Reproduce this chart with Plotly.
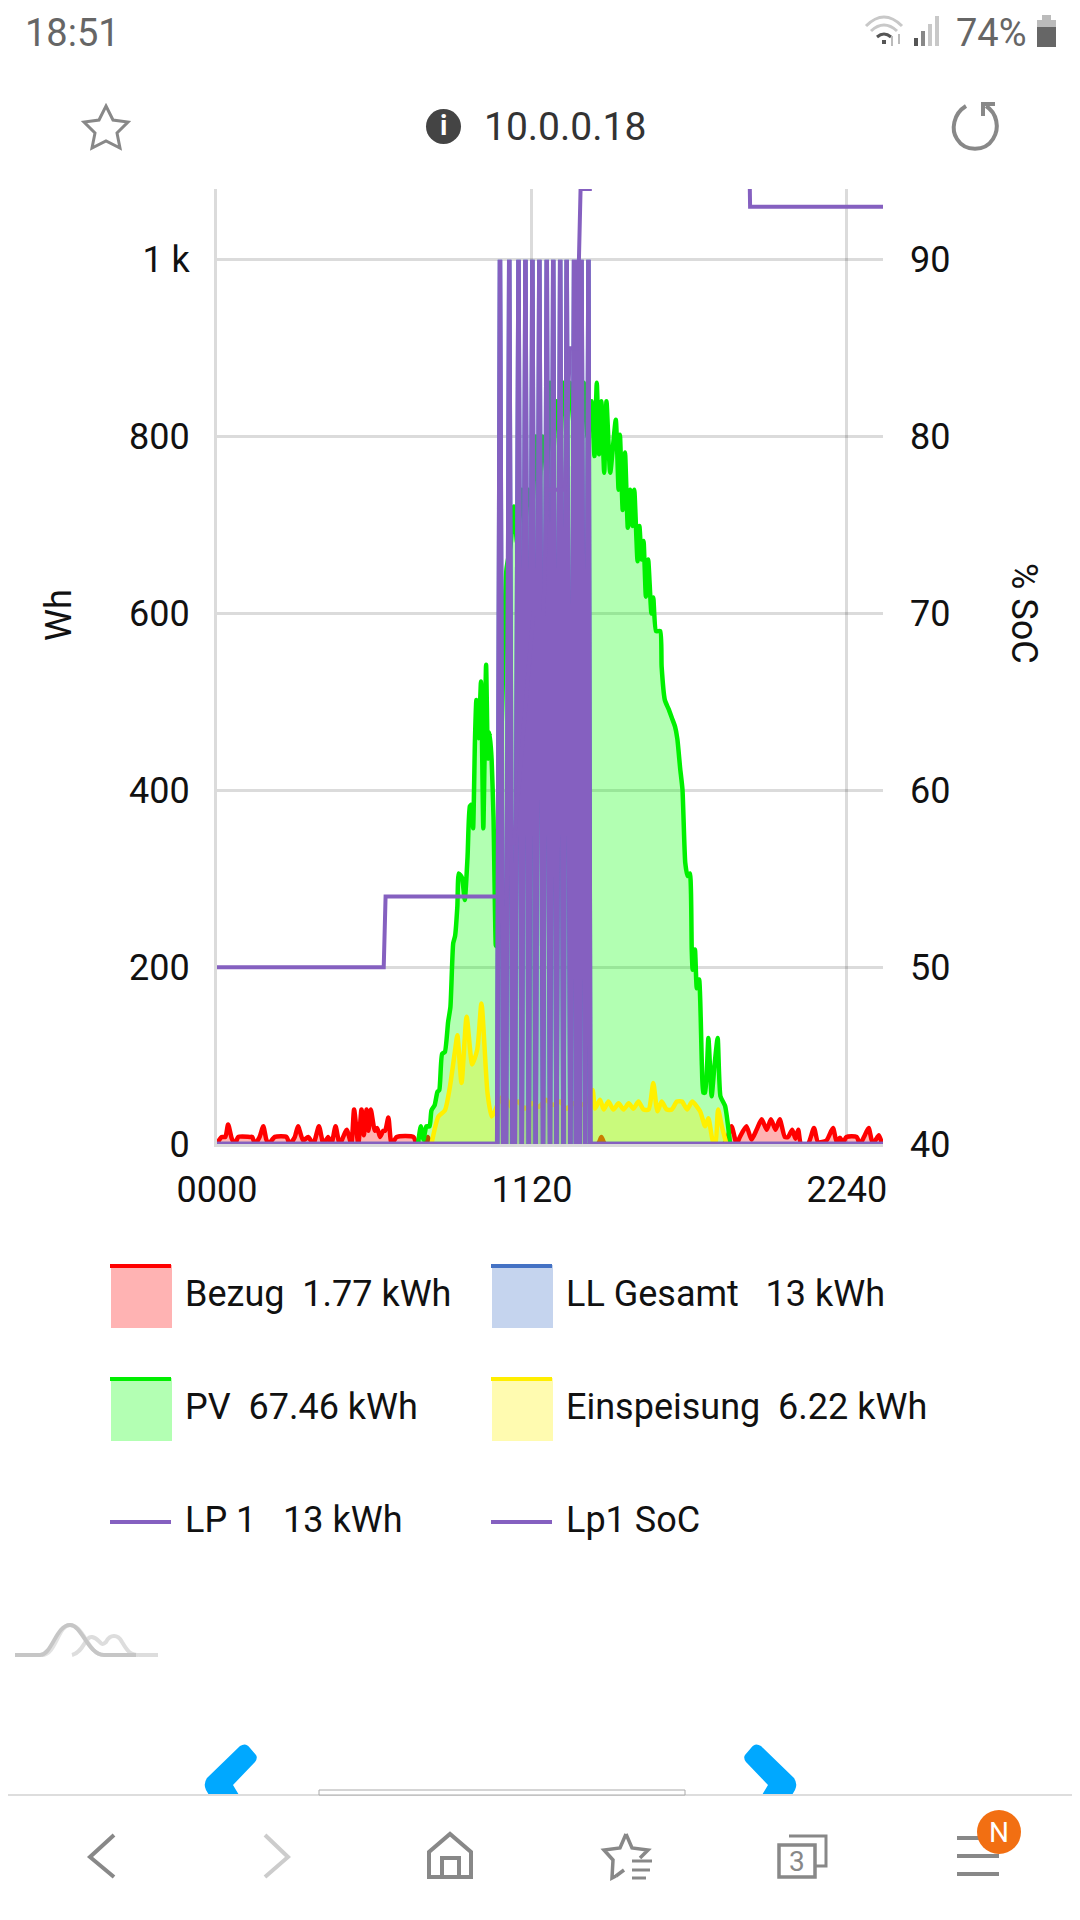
import re
import plotly.graph_objects as go

# page size and plot box, everything outside the plot is placed in page pixels
W, H = 1080, 1920
L, R, T, B = 217, 883, 189, 1144
BODY = 8  # the browser puts this margin around the plot div

bezug_x = [0, 4, 10, 18, 24, 32, 39, 46, 71, 76, 82, 92, 100, 106, 111, 125, 150, 157, 168, 175, 186, 197, 208, 220, 230, 240,
           247, 256, 265, 280, 290, 296, 305, 312, 317, 323, 327, 332, 341, 346, 352, 359, 363, 370, 377, 388, 424, 431, 436,
           448, 455, 462, 822, 830, 838, 1094, 1101, 1111, 1122, 1129, 1143, 1154, 1165, 1176, 1187, 1196, 1206, 1215, 1226,
           1233, 1242, 1249, 1255, 1261, 1276, 1289, 1298, 1316, 1330, 1338, 1345, 1352, 1359, 1381, 1388, 1397, 1407, 1415,
           1420, 1429, 1435, 1437]
bezug_y = [2, 4, 8, 8, 22, 6, 0, 8, 8, 8, 0, 8, 20, 6, 0, 8, 8, 0, 8, 20, 4, 8, 0, 20, 0, 8,
           0, 20, 0, 16, 0, 39, 0, 39, 10, 39, 15, 39, 15, 18, 8, 15, 15, 30, 0, 8, 8, 0, 0,
           0, 8, 0, 0, 8, 0, 0, 5, 20, 0, 8, 20, 5, 16, 28, 16, 28, 16, 28, 8,
           8, 16, 6, 16, 0, 0, 18, 2, 4, 18, 2, 7, 2, 8, 8, 0, 8, 18, 2,
           3, 10, 2, 0]

pv_x = [434, 440, 446, 452, 459, 463, 470, 476, 480, 486, 492, 499, 504, 510, 514, 519, 522, 529, 535, 541, 546, 550, 553, 557,
        560, 565, 570, 575, 581, 585, 589, 593, 597, 602, 610, 618, 625, 634, 641, 648, 658, 665, 672, 680, 688, 695, 703, 712,
        719, 726, 733, 741, 748, 755, 762, 770, 777, 785, 792, 800, 809, 815, 820, 825, 830, 836, 841, 849, 861, 867, 870, 876,
        881, 887, 892, 897, 901, 908, 912, 917, 921, 926, 931, 938, 942, 948, 957, 960, 967, 975, 982, 989, 994, 1000, 1005,
        1011, 1016, 1021, 1025, 1027, 1032, 1036, 1041, 1047, 1050, 1054, 1061, 1068, 1074, 1081, 1087, 1097, 1108]
pv_y = [0, 20, 5, 20, 20, 38, 44, 59, 61, 102, 104, 138, 155, 227, 235, 269, 306, 301, 276, 325, 382, 384, 357, 457,
        502, 459, 523, 357, 542, 436, 465, 434, 370, 224, 380, 540, 650, 678, 721, 680, 740, 700, 740, 717, 800, 740, 800, 757,
        861, 782, 840, 797, 861, 819, 861, 815, 861, 800, 861, 800, 840, 778, 861, 780, 840, 759, 840, 759, 819, 740, 802, 717,
        782, 697, 740, 699, 740, 659, 699, 661, 682, 619, 661, 600, 618, 580, 580, 540, 502, 492, 482, 472, 458, 425, 401,
        318, 303, 306, 220, 197, 220, 176, 186, 88, 58, 58, 120, 54, 88, 120, 54, 43, 0]

einsp_x = [463, 478, 492, 503, 514, 519, 528, 539, 551, 562, 571, 584, 593, 600, 606, 620, 635, 650, 665, 680, 695, 710, 725,
           740, 755, 770, 785, 800, 811, 816, 827, 835, 845, 856, 867, 878, 889, 899, 910, 921, 932, 942, 951, 960, 971, 982,
           993, 1004, 1015, 1026, 1043, 1054, 1061, 1072, 1076, 1082, 1090, 1100]
einsp_y = [0, 31, 38, 65, 106, 123, 69, 144, 90, 107, 159, 58, 31, 37, 45, 55, 42, 48, 40, 46, 42, 50, 44,
           48, 40, 46, 44, 48, 61, 40, 50, 39, 48, 39, 46, 39, 46, 40, 48, 39, 39, 69, 37, 48, 39, 39,
           48, 48, 39, 48, 37, 20, 29, 0, 0, 39, 20, 0]

lp1_x = [0, 605, 611, 618, 624, 631, 638, 643, 651, 658, 666, 673, 681, 688, 696, 704, 712, 719, 726, 733, 741, 748, 755, 763,
         771, 775, 779, 783, 787, 795, 802, 806, 1438]
lp1_y = [0, 0, 1000, 0, 0, 1000, 0, 0, 1000, 0, 1000, 0, 1000, 0, 1000, 0, 1000, 0, 1000, 0, 1000, 0, 1000, 0,
         1000, 0, 1000, 0, 1000, 0, 1000, 0, 0]
ll_gesamt_x = list(lp1_x)
ll_gesamt_y = list(lp1_y)

soc_x = [0, 360, 364, 624, 630, 641, 683, 705, 712, 751, 762, 777, 785, 805, 807, 1147, 1151, 1438]
soc_y = [50, 50, 54, 54, 57, 57, 70, 70, 77, 77, 85, 85, 94, 94, 100, 100, 93, 93]

x_ticks = [0, 680, 1360]
x_labels = ["0000", "1120", "2240"]
wh_ticks = [0, 200, 400, 600, 800, 1000]
wh_labels = ["0", "200", "400", "600", "800", "1 k"]
soc_ticks = [40, 50, 60, 70, 80, 90]

legend_area = [("Bezug\u00a0\u00a01.77 kWh", "#ff0000", "#ffb3b3", 111, 1265),
               ("LL Gesamt\u00a0\u00a0\u00a013 kWh", "#4472c4", "#c5d4ee", 492, 1265),
               ("PV\u00a0\u00a067.46 kWh", "#00ee00", "#b3ffb3", 111, 1378),
               ("Einspeisung\u00a0\u00a06.22 kWh", "#ffee00", "#fffbb0", 492, 1378)]
legend_line = [("LP 1\u00a0\u00a0\u00a013 kWh", 111), ("Lp1 SoC", 492)]

FONT = "Roboto"
PURPLE = "#8560c0"
GRID = "rgba(0,0,0,0.14)"


def px(x):
    return (x - L) / (R - L)


def py(y):
    return 1 - (y - T) / (B - T)


def path(d):
    # page pixels to paper fractions
    return re.sub(r"(-?[\d.]+)[ ,]+(-?[\d.]+)",
                  lambda m: "%.5f,%.5f" % (px(float(m.group(1))), py(float(m.group(2)))), d)


shapes = []
texts = []


def draw(d, color="#888888", width=3, fill=None):
    shapes.append(dict(type="path", path=path(d), xref="paper", yref="paper", layer="above",
                       line=dict(color=color, width=width), fillcolor=fill))


def box(x0, y0, x1, y1, fill, line=None, width=0):
    shapes.append(dict(type="rect", xref="paper", yref="paper", layer="above",
                       x0=px(x0), x1=px(x1), y0=py(y0), y1=py(y1), fillcolor=fill,
                       line=dict(color=line or fill, width=width)))


def label(x, y, s, size=36, color="#111111", anchor="left", angle=0):
    texts.append(dict(x=px(x), y=py(y), xref="paper", yref="paper", text=s, showarrow=False, textangle=angle,
                      xanchor=anchor, yanchor="middle", font=dict(family=FONT, size=size, color=color)))


fig = go.Figure()

fig.add_trace(go.Scatter(x=bezug_x, y=bezug_y, name="Bezug", mode="lines", fill="tozeroy", fillcolor="rgba(255,0,0,0.3)",
                         line=dict(color="#ff0000", width=4.5, shape="spline", smoothing=0.6)))
fig.add_trace(go.Scatter(x=pv_x, y=pv_y, name="PV", mode="lines", fill="tozeroy", fillcolor="rgba(0,255,0,0.3)",
                         line=dict(color="#00f000", width=4.5, shape="spline", smoothing=0.5)))
fig.add_trace(go.Scatter(x=einsp_x, y=einsp_y, name="Einspeisung", mode="lines", fill="tozeroy", fillcolor="rgba(255,240,0,0.3)",
                         line=dict(color="#fff000", width=4.5, shape="spline", smoothing=0.6)))
fig.add_trace(go.Scatter(x=ll_gesamt_x, y=ll_gesamt_y, name="LL Gesamt", mode="lines", fill="tozeroy", fillcolor="rgba(68,114,196,0.3)",
                         line=dict(color="#4472c4", width=4.5)))
fig.add_trace(go.Scatter(x=lp1_x, y=lp1_y, name="LP 1", mode="lines", line=dict(color=PURPLE, width=4.5)))
fig.add_trace(go.Scatter(x=soc_x, y=soc_y, name="Lp1 SoC", mode="lines", yaxis="y2", line=dict(color=PURPLE, width=4)))

# legend, same layout as the chart page has it
for name, line_col, fill_col, x0, y0 in legend_area:
    box(x0, y0, x0 + 61, y0 + 63, fill_col)
    box(x0 - 1, y0 - 1, x0 + 60, y0 + 3, line_col)
    label(x0 + 72, y0 + 29, name)
for name, x0 in legend_line:
    box(x0 - 1, 1520, x0 + 60, 1524, PURPLE)
    label(x0 + 72, 1520, name)

# axis titles sit above the middle of the plot box
label(59, 615, "Wh", angle=-90, anchor="center")
label(1024, 613, "% SoC", angle=90, anchor="center")

# status bar and address bar
label(23, 33, "18:51", size=38, color="#666666")
label(954, 33, "74%", size=38, color="#666666")
draw("M 866 26 Q 884 8 902 26", color="#c8c8c8", width=3)
draw("M 871 31 Q 884 19 897 31", color="#c8c8c8", width=3)
draw("M 877 37 Q 884 31 891 37", color="#555555", width=3)
box(882, 40, 886, 44, "#555555")
draw("M 892 36 L 892 46", color="#bbbbbb", width=2)
draw("M 899 34 L 899 44", color="#bbbbbb", width=2)
for x0, y0, col in [(914, 38, "#555555"), (921, 31, "#888888"), (928, 24, "#c8c8c8"), (935, 16, "#c8c8c8")]:
    box(x0, y0, x0 + 4, 46, col)
box(1042, 15, 1051, 20, "#bbbbbb")
box(1037, 20, 1056, 27, "#bbbbbb")
box(1037, 27, 1056, 47, "#666666")
draw("M 106 106 L 113 120 L 128 122 L 117 133 L 120 148 L 106 141 L 92 148 L 95 133 L 84 122 L 99 120 Z")
shapes.append(dict(type="circle", xref="paper", yref="paper", layer="above", x0=px(426), x1=px(461), y0=py(109), y1=py(144),
                   fillcolor="#444444", line=dict(width=0)))
label(443.5, 126, "<b>i</b>", size=28, color="#ffffff", anchor="center")
label(482, 127, "10.0.0.18", size=39, color="#333333")
draw("M 966 106 C 953 114 951 130 957 139 C 965 152 985 152 993 139 C 1000 128 997 113 986 106", width=4)
draw("M 995 104 L 983 104 L 983 116", width=4)

# trend icon under the legend
draw("M 42 1655 C 56 1655 58 1625 70 1625 C 84 1625 88 1655 104 1655 L 138 1655", color="#e2e2e2", width=4)
draw("M 72 1655 C 84 1652 85 1636 92 1637 C 100 1638 100 1648 106 1642 C 110 1634 118 1634 122 1642 C 128 1652 130 1655 140 1655 L 158 1655",
     color="#dddddd", width=4)
draw("M 15 1655 L 40 1655 C 52 1655 56 1625 70 1625 C 82 1625 88 1655 104 1655 L 136 1655", color="#c6c6c6", width=4)

# blue page arrows, cut off by the bottom bar
draw("M 240 1746 Q 246 1742 250 1748 L 256 1755 Q 258 1758 255 1762 L 233 1785 L 242 1800 L 212 1800 L 206 1790 Q 203 1784 207 1778 Z",
     color="#00a8ff", width=0, fill="#00a8ff")
draw("M 761 1746 Q 755 1742 751 1748 L 745 1755 Q 743 1758 746 1762 L 768 1785 L 759 1800 L 789 1800 L 795 1790 Q 798 1784 794 1778 Z",
     color="#00a8ff", width=0, fill="#00a8ff")
box(0, 1795, W, H, "#ffffff")
box(0, 1794, W, 1796, "#dddddd")
box(319, 1790, 685, 1795, "#ffffff", line="#aaaaaa", width=1)

# browser toolbar
draw("M 114 1835 L 90 1857 L 114 1877", width=4)
draw("M 265 1835 L 288 1857 L 265 1877", color="#cccccc", width=4)
draw("M 429 1877 L 429 1852 L 450 1834 L 471 1852 L 471 1877 Z", width=4)
draw("M 442 1877 L 442 1858 L 459 1858 L 459 1877", width=4)
draw("M 626 1834 L 632 1848 L 648 1850 L 640 1858 M 616 1876 L 612 1878 L 613 1860 L 604 1850 L 620 1848 L 626 1834 M 616 1876 L 624 1870", width=3.5)
for y0, x1 in [(1861, 652), (1870, 650), (1878, 646)]:
    box(632, y0 - 1.5, x1, y0 + 1.5, "#888888")
draw("M 789 1836 L 826 1836 L 826 1866 L 816 1866", width=3)
draw("M 779 1845 L 815 1845 L 815 1877 L 779 1877 Z", width=3.5, fill="#ffffff")
label(797, 1861, "3", size=28, color="#888888", anchor="center")
for y0 in [1838, 1856, 1874]:
    box(957, y0 - 2, 999, y0 + 2, "#888888")
shapes.append(dict(type="circle", xref="paper", yref="paper", layer="above", x0=px(977), x1=px(1021), y0=py(1810), y1=py(1854),
                   fillcolor="#f26f12", line=dict(width=0)))
label(999, 1832, "N", size=28, color="#ffffff", anchor="center")

tick_font = dict(family=FONT, size=36, color="#111111")
fig.update_layout(
    width=W - BODY, height=H - BODY, showlegend=False, hovermode=False,
    paper_bgcolor="white", plot_bgcolor="white",
    margin=dict(l=L - BODY, r=W - R, t=T - BODY, b=H - B, pad=0),
    font=dict(family=FONT, color="#111111"),
    xaxis=dict(range=[0, 1438], tickmode="array", tickvals=x_ticks, ticktext=x_labels, tickfont=tick_font,
               showgrid=True, gridcolor=GRID, gridwidth=3, zeroline=False, ticks="", ticklabelstandoff=12,
               showline=True, linecolor=GRID, linewidth=3),
    yaxis=dict(range=[0, 1080], tickmode="array", tickvals=wh_ticks, ticktext=wh_labels, tickfont=tick_font,
               showgrid=True, gridcolor=GRID, gridwidth=3, zeroline=False, ticks="", ticklabelstandoff=17,
               showline=True, linecolor=GRID, linewidth=3),
    yaxis2=dict(range=[40, 94], overlaying="y", side="right", tickmode="array", tickvals=soc_ticks, tickfont=tick_font,
                showgrid=False, zeroline=False, ticks="", ticklabelstandoff=26, showline=False),
    shapes=shapes, annotations=texts,
)

fig.write_html("out.html")
